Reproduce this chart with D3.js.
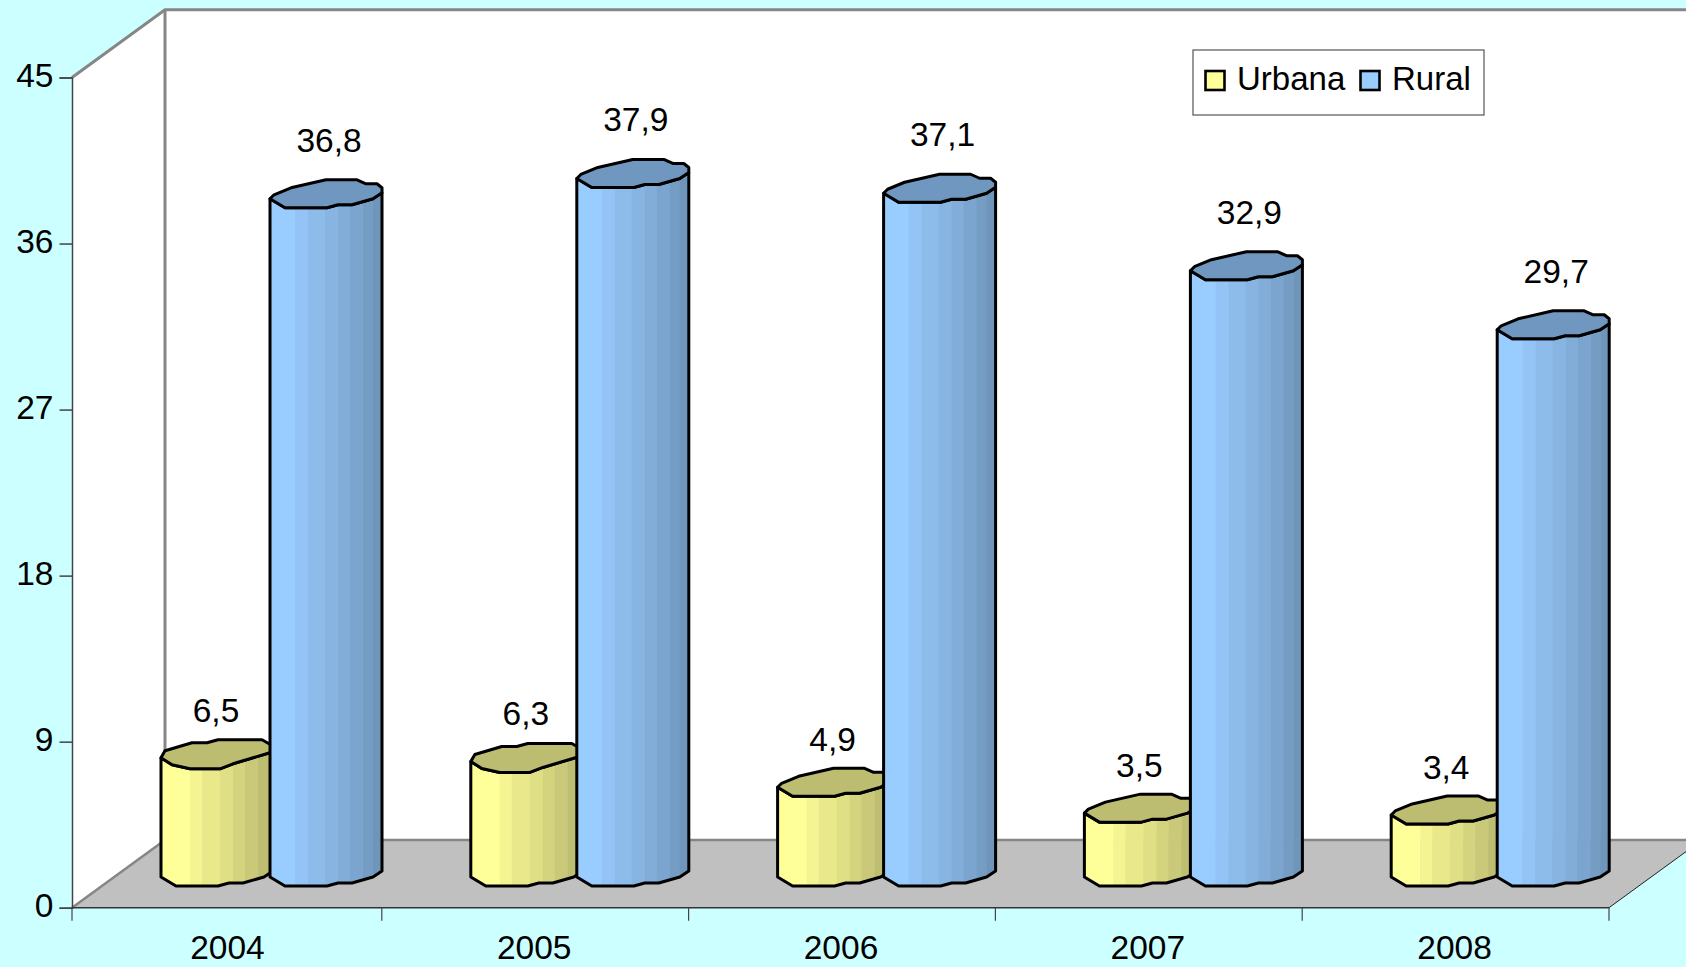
<!DOCTYPE html>
<html>
<head>
<meta charset="utf-8">
<script src="https://cdn.jsdelivr.net/npm/d3@7"></script>
<style>
  html, body { margin: 0; padding: 0; background: #ccffff; overflow: hidden; }
  text { font-family: "Liberation Sans", Arial, sans-serif; font-size: 33.5px; fill: #000; }
</style>
</head>
<body>
<div id="chart"></div>
<script>
var years = ["2004", "2005", "2006", "2007", "2008"];
var urbana = [6.5, 6.3, 4.9, 3.5, 3.4];
var rural = [36.8, 37.9, 37.1, 32.9, 29.7];
var yTicks = [0, 9, 18, 27, 36, 45];
var seriesNames = ["Urbana", "Rural"];

var width = 1686, height = 967;

// front plane of the fake 3d box, and how far back the wall sits
var left = 72, right = 1609, bottom = 907.7, top45 = 77.5;
var depthX = 93, depthY = 67.7;

var svg = d3.select("#chart").append("svg")
    .attr("width", width)
    .attr("height", height);

var x = d3.scaleBand().domain(years).range([75, right]);
var y = d3.scaleLinear().domain([0, 45]).range([bottom, top45]);

// first category starts on the y axis, a little left of the band
function edge(year, i) { return i === 0 ? left : x(year); }

var line = d3.line();

// walls
svg.append("path")
    .attr("d", line([[left, bottom], [left, top45], [left + depthX, top45 - depthY],
                     [width + 5, top45 - depthY], [width + 5, bottom - depthY], [left + depthX, bottom - depthY]]))
    .attr("fill", "#fff");
svg.append("path")
    .attr("d", line([[left, top45], [left + depthX, top45 - depthY], [width + 5, top45 - depthY]]))
    .attr("fill", "none").attr("stroke", "#868686").attr("stroke-width", 3);
svg.append("path")
    .attr("d", line([[left + depthX, top45 - depthY], [left + depthX, bottom - depthY]]))
    .attr("stroke", "#868686").attr("stroke-width", 3);

// floor
svg.append("path")
    .attr("d", line([[left, bottom], [left + depthX, bottom - depthY], [right + depthX, bottom - depthY], [right, bottom]]) + "Z")
    .attr("fill", "#c0c0c0");
svg.append("path")
    .attr("d", line([[left, bottom], [left + depthX, bottom - depthY], [width + 5, bottom - depthY]]))
    .attr("fill", "none").attr("stroke", "#868686").attr("stroke-width", 2.5);
svg.append("path")
    .attr("d", line([[right, bottom], [right + depthX, bottom - depthY]]))
    .attr("stroke", "#222").attr("stroke-width", 1);

// axes
var yAxis = svg.append("g")
    .attr("transform", "translate(" + left + ",0)")
    .call(d3.axisLeft(y).tickValues(yTicks).tickSize(12.5).tickPadding(6).tickFormat(d3.format("d")));
yAxis.selectAll("path, line").attr("stroke", "#444").attr("stroke-width", 1.5);
yAxis.selectAll("text").attr("dy", "0.26em").style("font-size", "33.5px").style("font-family", "'Liberation Sans'");

svg.append("line")
    .attr("x1", left).attr("x2", right)
    .attr("y1", bottom).attr("y2", bottom)
    .attr("stroke", "#333").attr("stroke-width", 1.5);

svg.selectAll(".xtick")
    .data(years.concat("end"))
    .enter().append("line")
    .attr("class", "xtick")
    .attr("x1", function(d, i) { return d === "end" ? right : edge(d, i); })
    .attr("x2", function(d, i) { return d === "end" ? right : edge(d, i); })
    .attr("y1", bottom).attr("y2", bottom + 13)
    .attr("stroke", "#444").attr("stroke-width", 1.2);

svg.selectAll(".xlabel")
    .data(years)
    .enter().append("text")
    .attr("class", "xlabel")
    .attr("x", function(d) { return x(d) + x.bandwidth() / 2 - 1; })
    .attr("y", 959)
    .attr("text-anchor", "middle")
    .text(function(d) { return d; });

// low-poly cylinder outlines, px offset from the left corner of the top/base
var baseEdge = [[0, 0], [15, 9], [57, 9], [68, 6], [82, 6], [103, 0], [112, -6]];
var shapeA = {
  upper: [[0, 0], [4, -4], [21, -11], [56, -19], [87, -19], [96, -15], [107, -15], [112, -11]],
  lower: baseEdge
};
var shapeB = {
  upper: [[0, 0], [4, -7], [31, -15], [46, -15], [57, -18], [101, -18], [108, -14], [112, -12]],
  lower: [[0, 0], [11, 7], [29, 11], [59, 11], [72, 6], [112, -6]]
};

var seriesStyle = {
  Urbana: { light: "#ffff99", dark: "#bebe72", top: "#bdbd72", facets: [0, 29, 41, 59, 72, 84, 97, 113] },
  Rural: { light: "#99ccff", dark: "#6f95ba", top: "#7097bf", facets: [0, 25, 38, 55, 68, 80, 93, 103, 113] }
};

var defs = svg.append("defs");

function shifted(pts, px, py) {
  return pts.map(function(p) { return [px + p[0], py + p[1]]; });
}

function drawCylinder(name, value, barLeft, shape, id) {
  var style = seriesStyle[name];
  var topY = y(value) - 30;
  var baseY = bottom - 30.7;
  var upper = shifted(shape.upper, barLeft, topY);
  var lowerTop = shifted(shape.lower, barLeft, topY);
  var lowerBase = shifted(baseEdge, barLeft, baseY);

  var body = line(lowerTop.slice().reverse().concat(lowerBase)) + "Z";

  defs.append("clipPath").attr("id", id)
      .append("path").attr("d", body);

  var shade = d3.interpolateRgb(style.light, style.dark);
  var g = svg.append("g");
  g.append("g").attr("clip-path", "url(#" + id + ")")
    .selectAll("rect")
    .data(d3.pairs(style.facets))
    .enter().append("rect")
    .attr("x", function(d) { return barLeft + d[0]; })
    .attr("width", function(d) { return d[1] - d[0] + 0.5; })
    .attr("y", topY - 25)
    .attr("height", baseY - topY + 45)
    .attr("fill", function(d, i) { return shade(i / (style.facets.length - 2)); });

  g.append("path").attr("d", body)
    .attr("fill", "none").attr("stroke", "#000").attr("stroke-width", 3).attr("stroke-linejoin", "round");
  g.append("path")
    .attr("d", line(upper.concat(lowerTop.slice().reverse())) + "Z")
    .attr("fill", style.top).attr("stroke", "#000").attr("stroke-width", 3).attr("stroke-linejoin", "round");
}

years.forEach(function(year, i) {
  var urbanLeft = edge(year, i) + 89;
  var ruralLeft = x(year) + 195;

  drawCylinder("Urbana", urbana[i], urbanLeft, i < 2 ? shapeB : shapeA, "u" + i);
  drawCylinder("Rural", rural[i], ruralLeft, shapeA, "r" + i);

  svg.append("text")
    .attr("x", urbanLeft + 55)
    .attr("y", y(urbana[i]) - 66)
    .attr("text-anchor", "middle")
    .text(String(urbana[i]).replace(".", ","));
  svg.append("text")
    .attr("x", ruralLeft + 59)
    .attr("y", y(rural[i]) - 77)
    .attr("text-anchor", "middle")
    .text(String(rural[i]).replace(".", ","));
});

// legend
var legend = svg.append("g");
legend.append("rect")
    .attr("x", 1193).attr("y", 50)
    .attr("width", 291).attr("height", 65)
    .attr("fill", "#fff").attr("stroke", "#555").attr("stroke-width", 1.2);
seriesNames.forEach(function(name, i) {
  var sx = i === 0 ? 1205.5 : 1360.5;
  legend.append("rect")
    .attr("x", sx).attr("y", 71)
    .attr("width", 19).attr("height", 19)
    .attr("fill", seriesStyle[name].light)
    .attr("stroke", "#000").attr("stroke-width", 2.6);
  legend.append("text")
    .attr("x", sx + 31.5)
    .attr("y", 90)
    .style("font-size", "33px")
    .text(name);
});
</script>
</body>
</html>
